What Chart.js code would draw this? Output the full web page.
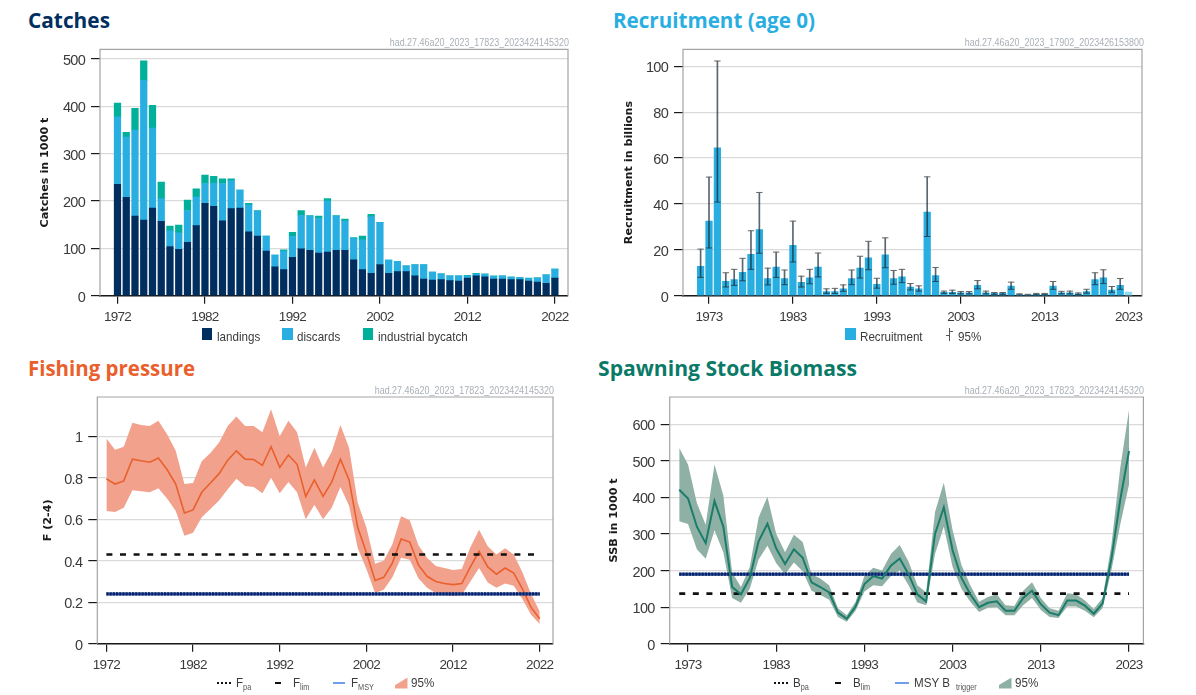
<!DOCTYPE html>
<html><head><meta charset="utf-8">
<script src="https://cdn.jsdelivr.net/npm/chart.js@4"></script>
<style>
html,body{margin:0;padding:0;background:#fff;width:1196px;height:695px;overflow:hidden}
canvas{position:absolute}
.t{position:absolute;white-space:nowrap;font-family:"Open Sans";font-weight:700;font-size:21px;line-height:26px;transform-origin:0 50%}
.s{position:absolute;white-space:nowrap;font-family:"Liberation Sans";font-size:10.5px;color:#a9b0b8;line-height:12px;transform:translateX(-100%) scaleX(.853);transform-origin:100% 50%}
.l{position:absolute;white-space:nowrap;font-family:"Liberation Sans";font-size:13.5px;color:#3a3a3a;line-height:16px;transform:scaleX(.86);transform-origin:0 50%}
.l sub{font-size:8.5px;vertical-align:-3px;line-height:0;color:#555}
.k{position:absolute}
</style></head><body>
<script>
const yearsA=[];for(let y=1972;y<=2022;y++)yearsA.push(y);
const yearsB=[];for(let y=1972;y<=2023;y++)yearsB.push(y);
const ticksA=[1972,1982,1992,2002,2012,2022];
const ticksB=[1973,1983,1993,2003,2013,2023];

const landings=[235,208,168,160,185,157,104,98,113,148,195,189,158,184,185,135,126,94,61,55,81,99,96,90,92,96,96,76,55,47,66,47,51,51,42,35,33,34,32,31,37,42,40,35,35,34,34,31,29,26,37];
const discards=[143,127,182,295,169,48,33,35,67,61,42,49,79,59,38,57,53,32,25,39,44,71,72,73,108,72,62,45,63,120,89,28,21,12,24,31,17,12,10,11,5,4,5,6,7,5,5,5,9,18,19];
const bycatch=[29,10,46,41,48,35,10,16,22,17,18,14,10,4,0,3,1,0,0,3,9,10,1,5,5,1,4,2,8,5,0,0,0,0,0,0,0,0,0,0,1,1,1,1,0,1,0,1,0,0,0];

const recruitment=[12.8,32.5,64.5,6.3,7,10.2,18,28.8,7.5,12.5,7.5,22,5.8,7.8,12.5,1.8,1.8,3,7.5,12,16.5,5,17.8,7.5,8.2,3.8,3,36.5,8.8,1.5,1.5,1.2,1.2,4.5,1.3,1,1,4.2,0.5,0.4,0.6,0.7,4.2,1.3,1.3,0.8,1.8,7,7.8,2.5,4.5,1.6];
const recHigh=[20.3,51.7,102.3,10,11.5,16.3,28.3,45,12,19,11.2,32.5,8.5,11.5,18.6,3,3.2,4.7,11.2,17.2,23.7,7.6,25.2,11,11.5,5.3,4.3,51.8,12.3,2,2.4,1.8,1.8,6.6,2,1.4,1.4,5.9,0.8,0.6,1,1,6.2,1.9,2,1.2,2.8,10,11.3,4,7.5,null];
const recLow=[8,20.8,40.8,3.8,4.5,6.5,11.5,18.5,4.7,8,4.8,14.7,3.8,5.2,8.2,1,1,1.9,4.8,7.7,11.3,3.3,12.2,5,5.7,2.5,2,25.8,6.2,1,1,0.8,0.8,3,0.8,0.6,0.6,2.8,0.3,0.2,0.4,0.4,2.8,0.8,0.8,0.5,1.1,4.8,5.3,1.5,2.8,null];

const fishing=[.795,.77,.785,.89,.882,.875,.895,.84,.77,.63,.645,.73,.775,.82,.885,.93,.89,.888,.86,.95,.85,.91,.865,.71,.79,.71,.78,.89,.79,.56,.44,.305,.32,.39,.505,.49,.38,.325,.30,.29,.285,.29,.37,.445,.37,.335,.365,.34,.265,.175,.12];
const fishHigh=[.99,.935,.95,1.065,1.055,1.05,1.075,1.01,.93,.77,.775,.88,.92,.97,1.05,1.095,1.05,1.05,1.02,1.13,1.0,1.075,1.02,.85,.945,.85,.925,1.055,.945,.68,.56,.385,.40,.48,.615,.595,.475,.415,.375,.365,.355,.36,.465,.55,.47,.43,.46,.43,.345,.24,.155];
const fishLow=[.64,.635,.655,.74,.735,.73,.75,.70,.64,.52,.535,.61,.65,.69,.745,.795,.76,.755,.725,.80,.725,.78,.73,.60,.67,.60,.655,.755,.665,.46,.36,.245,.26,.32,.415,.405,.315,.27,.245,.235,.23,.235,.30,.365,.295,.27,.29,.28,.215,.14,.095];
const Fpa=0.24,Flim=0.43,Fmsy=0.24;

const ssb=[421,397,320,275,390,320,155,135,180,280,328,260,218,258,235,168,155,140,85,68,102,163,185,178,213,233,190,135,115,300,373,255,180,135,100,112,116,90,90,125,145,108,85,78,118,118,104,82,110,232,393,527];
const ssbHigh=[535,490,385,325,490,405,195,155,210,345,402,300,250,298,278,190,178,160,97,78,115,185,208,200,245,270,225,160,140,360,440,310,215,160,115,128,135,105,103,145,168,125,97,90,138,135,118,95,125,270,480,640];
const ssbLow=[335,327,258,232,310,250,125,112,150,230,268,220,190,222,198,145,133,120,73,60,90,143,160,157,185,200,160,113,105,245,320,210,150,115,87,98,100,78,78,105,125,92,73,70,102,102,90,72,97,200,325,435];
const Bpa=190,Blim=137,Btrigger=190;

const NAVY='#002f5f',BLUE='#29aee2',TEAL='#00b09b',ORANGE='#e9602c',GREEN='#1a7d6b';
const SANS='"Liberation Sans"';

const frame={id:'frame',
  beforeDraw(c){c.ctx.letterSpacing='-0.7px';},
  afterDraw(c){const a=c.chartArea,x=c.ctx;x.save();x.strokeStyle='#a4a4a4';x.lineWidth=1.2;
  x.beginPath();x.moveTo(a.left,a.bottom);x.lineTo(a.left,a.top);x.lineTo(a.right,a.top);x.lineTo(a.right,a.bottom);x.stroke();x.restore();}};

function makeChart(p){
  const cv=document.createElement('canvas');
  cv.width=p.box[2];cv.height=p.box[3];
  cv.style.left=p.box[0]+'px';cv.style.top=p.box[1]+'px';cv.style.width=p.box[2]+'px';cv.style.height=p.box[3]+'px';
  document.body.appendChild(cv);
  const xH=32;
  new Chart(cv,{type:p.type||'bar',data:{labels:p.labels,datasets:p.datasets},plugins:[frame],options:{
    responsive:false,animation:false,devicePixelRatio:1,events:[],
    layout:{padding:{left:p.titleX-8-p.box[0],top:p.plot[1]-p.box[1],right:p.box[0]+p.box[2]-p.plot[2],bottom:p.box[1]+p.box[3]-p.plot[3]-xH}},
    plugins:{legend:{display:false},tooltip:{enabled:false}},
    elements:{point:{radius:0}},
    scales:{
      x:{type:'linear',min:p.xr[0],max:p.xr[1],offset:false,stacked:true,
        afterBuildTicks:s=>{s.ticks=p.xticks.map(v=>({value:v}));},
        afterFit:s=>{s.height=xH;s.paddingLeft=0;s.paddingRight=0;},
        grid:{offset:false,drawOnChartArea:false,color:'#1a1a1a',tickColor:'#1a1a1a',tickLength:8,lineWidth:1.2},
        border:{display:true,color:'#1a1a1a',width:1.4},
        ticks:{autoSkip:false,maxRotation:0,minRotation:0,padding:5,color:'#3a3a3a',font:{family:SANS,size:13.5},callback:v=>String(v)}},
      y:{type:'linear',min:0,max:p.ymax,stacked:!!p.stacked,
        afterBuildTicks:s=>{s.ticks=p.yticks.map(v=>({value:v}));},
        afterFit:s=>{s.width=p.plot[0]-(p.titleX-8);s.paddingTop=0;s.paddingBottom=0;
          if(!s._dtPatched){s._dtPatched=true;const dt=s.drawTitle;s.drawTitle=function(){const k=this.ctx;k.save();k.letterSpacing='0px';dt.call(this);k.restore();};}},
        grid:{color:'#dadada',tickColor:'#1a1a1a',tickLength:9,lineWidth:1.2},
        border:{display:false},
        title:{display:true,text:p.ytitle,color:'#1a1a1a',padding:0,font:{family:'"DejaVu Sans"',weight:'bold',size:11.2,lineHeight:1.39}},
        ticks:{padding:6,labelOffset:2,color:'#3a3a3a',font:{family:SANS,size:14.5},callback:v=>String(v)}}
    }}});
}
function bars(data,color,extra){return Object.assign({type:'bar',data,backgroundColor:color,barThickness:6.6,borderWidth:0},extra||{});}
function ln(data,color,w,extra){return Object.assign({type:'line',data,borderColor:color,borderWidth:w,pointRadius:0,fill:false,tension:0},extra||{});}

makeChart({box:[0,40,598,300],plot:[100,49.3,568,295.7],titleX:45.5,labels:yearsA,xr:[1970,2023.5],ymax:520.5,xticks:ticksA,yticks:[0,100,200,300,400,500],ytitle:'Catches in 1000 t',stacked:true,
 datasets:[bars(landings,NAVY),bars(discards,BLUE),bars(bycatch,TEAL)]});

makeChart({box:[598,40,598,300],plot:[683,49.3,1142,295.7],titleX:629.5,labels:yearsB,xr:[1969.9,2024.6],ymax:107.4,xticks:ticksB,yticks:[0,20,40,60,80,100],ytitle:'Recruitment in billions',
 datasets:[
  ln(recHigh,'#555',1,{showLine:false,pointStyle:'line',pointRadius:3.2,pointBorderColor:'#666',pointBorderWidth:1,order:1}),
  ln(recLow,'#333',1,{showLine:false,pointStyle:'line',pointRadius:3.2,pointBorderColor:'#1f4d63',pointBorderWidth:1,order:1}),
  bars(recHigh.map((h,i)=>h===null?null:[recLow[i],h]),'rgba(25,45,55,.72)',{barThickness:1,order:2}),
  bars(recruitment,c=>c.dataIndex===yearsB.length-1?'#8fdcf3':BLUE,{order:3})
 ]});

makeChart({box:[0,388,598,300],plot:[97.3,397,553,643.7],titleX:48,labels:yearsA,xr:[1970.95,2023.53],ymax:1.1895,xticks:ticksA,yticks:[0,.2,.4,.6,.8,1],ytitle:'F (2-4)',type:'line',
 datasets:[
  ln(yearsA.map(()=>Fpa),'#0a2260',3.2,{borderDash:[2.1,1.1],order:1}),
  ln(yearsA.map(()=>Flim),'#111',2.7,{borderDash:[6,7.6],order:2}),
  ln(yearsA.map(()=>Fmsy),'#2f55a8',3,{order:3}),
  ln(fishing,ORANGE,1.6,{order:4}),
  ln(fishHigh,'rgba(0,0,0,0)',0,{fill:'+1',backgroundColor:'#f2a18d',order:5}),
  ln(fishLow,'rgba(0,0,0,0)',0,{order:6})
 ]});

makeChart({box:[598,388,598,300],plot:[669.7,397,1143.4,643.7],titleX:614.5,labels:yearsB,xr:[1970.92,2024.63],ymax:674.6,xticks:ticksB,yticks:[0,100,200,300,400,500,600],ytitle:'SSB in 1000 t',type:'line',
 datasets:[
  ln(ssb,GREEN,2,{order:0}),
  ln(yearsB.map(()=>Bpa),'#0a2260',3.2,{borderDash:[2.1,1.1],order:1}),
  ln(yearsB.map(()=>Blim),'#111',2.7,{borderDash:[6,7.6],order:2}),
  ln(yearsB.map(()=>Btrigger),'#2f55a8',3,{order:3}),
  ln(ssbHigh,'rgba(0,0,0,0)',0,{fill:'+1',backgroundColor:'#8fb0a5',order:5}),
  ln(ssbLow,'rgba(0,0,0,0)',0,{order:6})
 ]});

function add(cls,x,y,html,style){const d=document.createElement('div');d.className=cls;d.style.left=x+'px';d.style.top=y+'px';d.innerHTML=html;if(style)d.style.cssText+=style;document.body.appendChild(d);return d;}
function box(x,y,w,h,c,extra){const d=document.createElement('div');d.className='k';d.style.cssText=`left:${x}px;top:${y}px;width:${w}px;height:${h}px;background:${c};`+(extra||'');document.body.appendChild(d);}
function title(x,yc,text,color,targetW){const d=add('t',x,yc-13,text,'color:'+color);const w=d.getBoundingClientRect().width;d.style.transform=`scaleX(${targetW/w})`;}
title(28,19.5,'Catches',NAVY,82);
title(613,19.5,'Recruitment (age 0)',BLUE,202);
title(28,367.5,'Fishing pressure',ORANGE,167);
title(598,367.5,'Spawning Stock Biomass','#0a7a68',259);

add('s',569,36,'had.27.46a20_2023_17823_2023424145320');
add('s',1144,36,'had.27.46a20_2023_17902_2023426153800');
add('s',554,384,'had.27.46a20_2023_17823_2023424145320');
add('s',1144,384,'had.27.46a20_2023_17823_2023424145320');

const LY=329;
box(201.5,328,10.5,12,NAVY);add('l',216.5,LY,'landings');
box(282,328,10.5,12,BLUE);add('l',297,LY,'discards');
box(362.5,328,10.5,12,TEAL);add('l',377.5,LY,'industrial bycatch');

box(845,328,10.5,12,BLUE);add('l',860,LY,'Recruitment');
box(948.5,328,1,13,'#555');box(948.5,331,4,1,'#555');box(945.5,335,4,1,'#555');add('l',958,LY,'95%');

const LZ=675,KZ=682.5;
function dots(x,w){box(x,KZ-1,w,2.4,'',`background:repeating-linear-gradient(90deg,#111 0 2px,transparent 2px 4px)`);}
dots(217,14);add('l',236,LZ,'F<sub>pa</sub>');
box(275,KZ-1,6,2.6,'#111');add('l',293,LZ,'F<sub>lim</sub>');
box(333,KZ-1,12,2.4,'#6d9eeb');add('l',351,LZ,'F<sub>MSY</sub>');
box(395,KZ-5,12.5,11,'#f2a18d','clip-path:polygon(0 70%,100% 0,100% 100%,0 100%)');add('l',411,LZ,'95%');

dots(773.5,14);add('l',792.5,LZ,'B<sub>pa</sub>');
box(834.5,KZ-1,6,2.6,'#111');add('l',853,LZ,'B<sub>lim</sub>');
box(895,KZ-1,14,2.4,'#6d9eeb');add('l',914,LZ,'MSY B');add('l',956,LZ,'<sub>trigger</sub>');
box(998.5,KZ-5,13,11,'#8fb0a5','clip-path:polygon(0 70%,100% 0,100% 100%,0 100%)');add('l',1015,LZ,'95%');
</script>
</body></html>
